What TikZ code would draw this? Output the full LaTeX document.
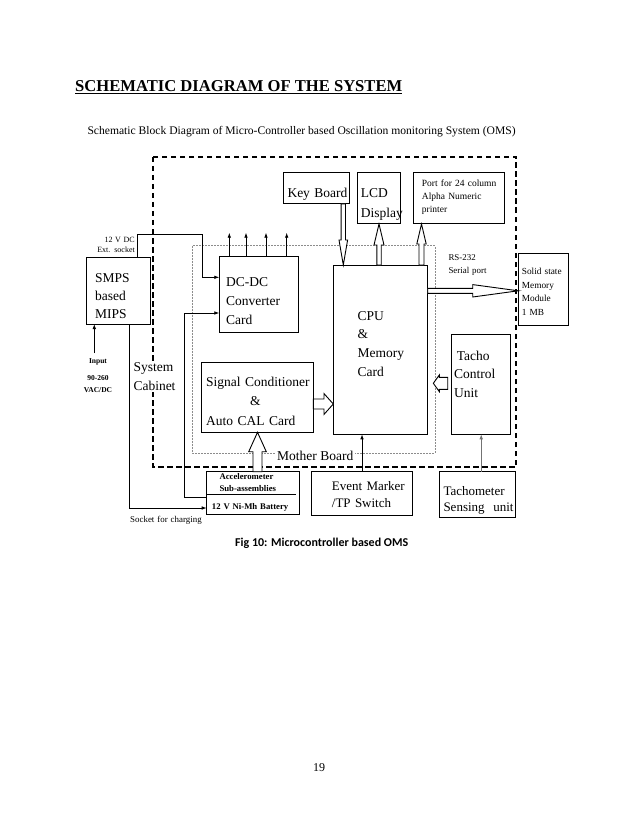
\documentclass[tikz,border=0pt]{standalone}
\usepackage{fontspec}
\setmainfont{Liberation Serif}
\newfontfamily\capfont{Carlito}
\usetikzlibrary{calc,arrows.meta}
\newcommand{\fsz}[2]{\fontsize{#1}{#2}\selectfont}
\newcommand{\hollowarrow}[5]{%
  \coordinate (hh) at ($(#2)!#5!(#1)$);
  \draw[harrow] ($(#1)!#3!90:(#2)$) -- ($(hh)!#3!-90:(#1)$) -- ($(hh)!#4!-90:(#1)$) -- (#2) -- ($(hh)!#4!90:(#1)$) -- ($(hh)!#3!90:(#1)$) -- ($(#1)!#3!-90:(#2)$) -- cycle;}
\begin{document}
\begin{tikzpicture}[x=1pt,y=-1pt,
  box/.style={draw, line width=1pt, fill=white, anchor=north west, inner sep=0pt, outer sep=0pt},
  lbl/.style={anchor=base west, inner sep=0pt, align=left, text width=130pt},
  arr/.style={-{Latex[length=5pt,width=3.6pt]}, line width=0.8pt},
  harrow/.style={draw, line width=0.9pt, fill=white, line join=miter},
  big/.style={font=\fsz{13.5}{19}},
  mid/.style={font=\fsz{13}{17}}
]
\fill[white] (0,0) rectangle (638,826);
\useasboundingbox (0,0) rectangle (638,826);

% title and subtitle
\node[anchor=base west, inner sep=0pt, font=\fsz{16.6}{20}\bfseries] (title) at (75,91.7) {\underline{SCHEMATIC DIAGRAM OF THE SYSTEM}};
\node[anchor=base west, inner sep=0pt, font=\fsz{11.6}{14}] (subtitle) at (87.3,134.5) {Schematic Block Diagram of Micro-Controller based Oscillation monitoring System (OMS)};

% mother board and cabinet outlines
\draw[line width=0.7pt, draw=black!45, dash pattern=on 2pt off 1pt] (192.7,245.7) rectangle (435,453);
\draw[line width=1.8pt, dash pattern=on 5.5pt off 3.5pt] (153,157) rectangle (516,467);

% boxes
\node[box, minimum width=63.3pt, minimum height=66.7pt] (smps) at (86.7,257.3) {};
\node[box, minimum width=79.2pt, minimum height=76pt] (dc) at (219.3,256.7) {};
\node[box, minimum width=66pt, minimum height=31pt] (kb) at (283.3,173) {};
\node[box, minimum width=43.4pt, minimum height=51pt] (lcd) at (357.3,173) {};
\node[box, minimum width=91pt, minimum height=51.7pt] (port) at (413.3,172.3) {};
\node[box, minimum width=94.4pt, minimum height=169.3pt] (cpu) at (333.3,265) {};
\node[box, minimum width=50pt, minimum height=71.7pt] (ssm) at (518.3,253.3) {};
\node[box, minimum width=111.6pt, minimum height=69.6pt] (sig) at (201.7,362.7) {};
\node[box, minimum width=59pt, minimum height=100pt] (tcu) at (451.7,334.3) {};
\node[box, minimum width=92.6pt, minimum height=42.6pt] (acc) at (206.7,471.7) {};
\node[box, minimum width=100.6pt, minimum height=43.3pt] (ev) at (311.7,471.7) {};
\node[box, minimum width=75.7pt, minimum height=45.6pt] (ts) at (439.3,471.7) {};

% accelerometer inner divider
\draw[line width=0.9pt] ($(acc.north west)+(0,22.3)$) -- ($(acc.north east)+(-3.3,22.3)$);

% texts
\node[lbl, font=\fsz{13.5}{18}] (smpst) at (95,282.3) {SMPS\\based\\MIPS};
\node[lbl, font=\fsz{13.5}{18.7}] (dct) at (226,286.7) {DC-DC\\Converter\\Card};
\node[lbl, big] (kbt) at (287.3,197.3) {Key Board};
\node[lbl, font=\fsz{13.5}{20.7}] (lcdt) at (360.7,197.3) {LCD\\Display};
\node[lbl, font=\fsz{9.5}{13}] (portt) at (421.7,186.7) {Port for 24 column\\Alpha Numeric\\printer};
\node[lbl, font=\fsz{8.9}{13.3}] (rst) at (448.3,260) {RS-232\\Serial port};
\node[lbl, font=\fsz{9.3}{13.5}] (ssmt) at (521.7,274.7) {Solid state\\Memory\\Module\\1 MB};
\node[lbl, font=\fsz{13.5}{18.9}] (cput) at (357.3,320) {CPU\\\&\\Memory\\Card};
\node[lbl, font=\fsz{13.5}{18.8}] (tcut) at (454,360) {\hspace*{2.7pt}Tacho\\Control\\Unit};
\node[lbl, font=\fsz{13.5}{19.5}] (sigt) at (206,386) {Signal Conditioner\\\hspace*{44pt}\&\\Auto CAL Card};
\node[anchor=base west, inner sep=1.5pt, fill=white, align=left, text width=44pt, font=\fsz{13.5}{19}] (cab) at (131.8,371) {System\\Cabinet};
\node[anchor=base, inner sep=0pt, align=center, text width=40pt, font=\fsz{7.5}{11.3}\bfseries] (inp) at (98,363.5) {Input\\[6pt]90-260\\VAC/DC};
\node[anchor=base east, inner sep=0pt, align=right, text width=50pt, font=\fsz{8}{10}] (ext) at (135,242.3) {12 V DC\\Ext. socket};
\node[lbl, font=\fsz{8.7}{12.4}\bfseries] (acct) at (219.3,479.3) {Accelerometer\\Sub-assemblies};
\node[lbl, font=\fsz{8.7}{12}\bfseries] (batt) at (211.7,509.3) {12 V Ni-Mh Battery};
\node[lbl, font=\fsz{8.9}{12}] (sock) at (130,522.3) {Socket for charging};
\node[lbl, mid] (evt) at (331.7,490.7) {Event Marker\\/TP Switch};
\node[lbl, font=\fsz{13}{16.7}] (tst) at (443.3,495) {Tachometer\\Sensing\ \ unit};
\node[anchor=base west, inner sep=2pt, fill=white, font=\fsz{13.5}{16}] (mbt) at (275,460) {Mother Board};

% thin connectors
\coordinate (s1) at ($(smps.north east)+(-12.7,0)$);
\coordinate (c1) at (202.7,234.3);
\coordinate (dcA) at ($(dc.north west)+(0,20.6)$);
\draw[arr] (s1) |- (c1) |- (dcA);

\coordinate (b1) at ($(acc.south west)+(0,-16.8)$);
\coordinate (c2) at (184,313);
\coordinate (dcB) at ($(dc.north west)+(0,56.3)$);
\draw[arr] (b1) -| (c2) -- (dcB);

\coordinate (s2) at ($(smps.south east)+(-20.7,0)$);
\coordinate (b2) at ($(acc.south west)+(0,-6.3)$);
\draw[arr] (s2) |- (b2);

\coordinate (in1) at (94.3,353);
\coordinate (s3) at ($(smps.south west)+(7.6,0)$);
\draw[arr] (in1) -- (s3);

\foreach \dx/\nm in {10/u1,26.7/u2,46.7/u3,67.4/u4}{
  \coordinate (\nm a) at ($(dc.north west)+(\dx,0)$);
  \coordinate (\nm b) at ($(\nm a)+(0,-24)$);
  \draw[arr] (\nm a) -- (\nm b);
}

\draw[arr] (ev.north) -- (ev.north |- cpu.south);
\draw[arr, draw=black!55, fill=black!55] (tcu.south |- ts.north) -- (tcu.south);

% hollow block arrows
\coordinate (kbA) at ($(kb.south east)+(-6,0)$);
\coordinate (kbB) at (kbA |- cpu.north);
\hollowarrow{kbA}{kbB}{2.2pt}{4.3pt}{25pt}

\coordinate (lA) at (lcd.south |- cpu.north);
\hollowarrow{lA}{lcd.south}{2.2pt}{5pt}{21pt}

\coordinate (pB) at ($(port.south west)+(8.2,0)$);
\coordinate (pA) at (pB |- cpu.north);
\hollowarrow{pA}{pB}{2.5pt}{4.7pt}{20pt}

\coordinate (sA) at ($(cpu.north east)+(0,25.8)$);
\coordinate (sB) at (sA -| ssm.west);
\hollowarrow{sA}{sB}{2.5pt}{6.2pt}{45.6pt}

\coordinate (gA) at ($(sig.east)+(0,6.5)$);
\coordinate (gB) at (gA -| cpu.west);
\hollowarrow{gA}{gB}{5pt}{10.4pt}{9.3pt}

\coordinate (aA) at (sig.south |- acc.north);
\hollowarrow{aA}{sig.south}{4.5pt}{8.8pt}{19.4pt}

\coordinate (tA) at ($(tcu.west)+(-4,-1)$);
\coordinate (tB) at ($(tA)+(-14.4,0)$);
\hollowarrow{tA}{tB}{6pt}{8.3pt}{6pt}

% caption and page number
\node[anchor=base, inner sep=0pt, font=\capfont\bfseries\fsz{12}{14}] (cap) at (321.7,546.5) {Fig 10: Microcontroller based OMS};
\node[anchor=base, inner sep=0pt, font=\fsz{12}{14}] (pg) at (319,771) {19};
\end{tikzpicture}
\end{document}
